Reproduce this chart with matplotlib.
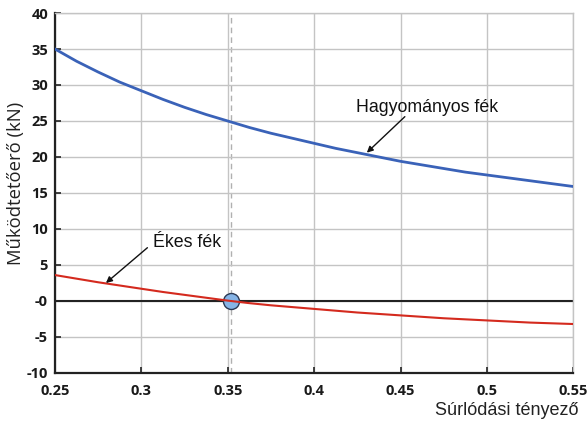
import matplotlib
matplotlib.use("Agg")
import matplotlib.pyplot as plt

# Data
mu = [0.25, 0.2625, 0.275, 0.2875, 0.30, 0.3125, 0.325, 0.3375, 0.35, 0.3625, 0.375, 0.3875,
      0.40, 0.4125, 0.425, 0.4375, 0.45, 0.4625, 0.475, 0.4875, 0.50, 0.5125, 0.525, 0.5375, 0.55]
hagyomanyos = [35.0, 33.3, 31.8, 30.4, 29.2, 28.0, 26.9, 25.9, 25.0, 24.1, 23.3, 22.6,
               21.9, 21.2, 20.6, 20.0, 19.4, 18.9, 18.4, 17.9, 17.5, 17.1, 16.7, 16.3, 15.9]
ekes = [3.6, 3.1, 2.6, 2.15, 1.7, 1.25, 0.85, 0.45, 0.05, -0.3, -0.6, -0.85,
        -1.1, -1.35, -1.6, -1.8, -2.0, -2.2, -2.4, -2.55, -2.7, -2.85, -3.0, -3.1, -3.2]

x_ticks = [0.25, 0.3, 0.35, 0.4, 0.45, 0.5, 0.55]
x_ticklabels = ["0.25", "0.3", "0.35", "0.4", "0.45", "0.5", "0.55"]
y_ticks = [-10, -5, 0, 5, 10, 15, 20, 25, 30, 35, 40]
y_ticklabels = ["-10", "-5", "-0", "5", "10", "15", "20", "25", "30", "35", "40"]

crossing_mu = 0.352
crossing_force = 0.0

fig = plt.figure(figsize=(5.88, 4.25), dpi=100)
ax = fig.add_axes([0.0935, 0.1224, 0.8815, 0.847])

ax.set_xlim(0.25, 0.55)
ax.set_ylim(-10, 40)
ax.set_xticks(x_ticks)
ax.set_xticklabels(x_ticklabels)
ax.set_yticks(y_ticks)
ax.set_yticklabels(y_ticklabels)

ax.grid(True, color="#c4c4c4", linewidth=1.0, zorder=0)
ax.axhline(0, color="#222222", linewidth=1.5, zorder=2)
ax.axvline(crossing_mu, color="#b0b0b0", linewidth=1.0, linestyle=(0, (4, 3)), zorder=1)

ax.plot(mu, hagyomanyos, color="#3a62b8", linewidth=2.0, zorder=3,
        solid_joinstyle="round")
ax.plot(crossing_mu, crossing_force, "o", markersize=11.5, markerfacecolor="#86b4e6",
        markeredgecolor="#2d3a55", markeredgewidth=1.0, zorder=4)
ax.plot(mu, ekes, color="#d42a1e", linewidth=1.5, zorder=5, solid_joinstyle="round")

for side in ["top", "right"]:
    ax.spines[side].set_color("#c4c4c4")
    ax.spines[side].set_linewidth(1.0)
for side in ["left", "bottom"]:
    ax.spines[side].set_color("#222222")
    ax.spines[side].set_linewidth(1.6)

ax.tick_params(direction="in", length=4, width=1.2, colors="#222222",
               top=False, right=False)
ax.tick_params(axis="x", pad=8)
ax.tick_params(axis="y", pad=5)
for lab in ax.get_xticklabels() + ax.get_yticklabels():
    lab.set_fontfamily("Open Sans")
    lab.set_fontweight("bold")
    lab.set_fontsize(10.5)
    lab.set_color("#1a1a1a")

ax.set_ylabel("Működtetőerő (kN)", fontfamily="Open Sans", fontsize=13.3, color="#222222")
ax.yaxis.set_label_coords(-0.057, 0.526)
fig.text(0.983, 0.035, "Súrlódási tényező", fontfamily="Liberation Sans", fontsize=13,
         ha="right", va="center", color="#222222")

# Annotations
ax.text(0.4655, 26.9, "Hagyományos fék", fontfamily="Liberation Sans", fontsize=12.8,
        ha="center", va="center", color="#111111", zorder=6)
ax.annotate("", xy=(0.4305, 20.6), xytext=(0.4525, 25.6),
            arrowprops=dict(arrowstyle="-|>", color="#111111", lw=1.0,
                            mutation_scale=9, shrinkA=0, shrinkB=0), zorder=6)
ax.text(0.3265, 8.1, "Ékes fék", fontfamily="Liberation Sans", fontsize=12.8,
        ha="center", va="center", color="#111111", zorder=6)
ax.annotate("", xy=(0.2795, 2.5), xytext=(0.3035, 7.4),
            arrowprops=dict(arrowstyle="-|>", color="#111111", lw=1.0,
                            mutation_scale=9, shrinkA=0, shrinkB=0), zorder=6)

fig.savefig("out.png", dpi=100)
